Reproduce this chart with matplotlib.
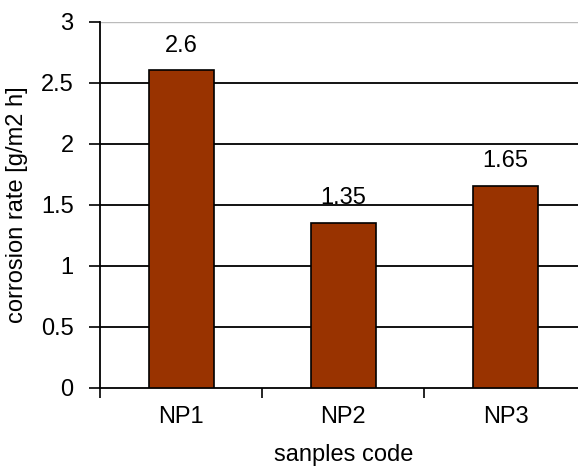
import numpy as np
import matplotlib.pyplot as plt

# Corrosion rate per sample
samples = ["NP1", "NP2", "NP3"]
rates = [2.6, 1.35, 1.65]

plt.rcParams['font.family'] = ['Liberation Sans', 'DejaVu Sans']

fig = plt.figure(figsize=(5.78, 4.76), dpi=100)
ax = fig.add_axes([0.173, 0.1855, 0.842, 0.769])

x = np.arange(len(samples))
bars = ax.bar(x, rates, width=0.4, color='#993300', edgecolor='black', linewidth=1.2, zorder=3)

# value labels above bars
for bar, v in zip(bars, rates):
    ax.annotate(f"{v:g}", (bar.get_x() + bar.get_width() / 2, v),
                xytext=(0, 10), textcoords='offset points',
                ha='center', va='bottom', fontsize=17)

ax.set_xlim(-0.5, 2.5)
ax.set_ylim(0, 3)
ax.set_yticks(np.arange(0, 3.01, 0.5))
ax.set_yticklabels(["0", "0.5", "1", "1.5", "2", "2.5", "3"])

# horizontal gridlines, top one lighter
for yv in np.arange(0.5, 2.51, 0.5):
    ax.axhline(yv, color='black', linewidth=1.3, zorder=1)
ax.axhline(3, color='#bbbbbb', linewidth=1.0, zorder=1)

# category ticks sit between samples, labels centred
ax.set_xticks([-0.5, 0.5, 1.5, 2.5])
ax.set_xticklabels([])
ax.set_xticks(x, minor=True)
ax.set_xticklabels(samples, minor=True, fontsize=17)
ax.tick_params(axis='x', which='major', length=7, width=1.2, direction='out')
ax.tick_params(axis='x', which='minor', length=0, pad=13)
ax.tick_params(axis='y', length=8, width=1.2, direction='out', pad=11, labelsize=17)

for s in ['top', 'right']:
    ax.spines[s].set_visible(False)
ax.spines['left'].set_linewidth(1.3)
ax.spines['bottom'].set_linewidth(1.3)

ax.set_xlabel("sanples code", fontsize=17, labelpad=12)
ax.set_ylabel("corrosion rate [g/m2 h]", fontsize=17, labelpad=9)

fig.savefig("out.png", dpi=100)
